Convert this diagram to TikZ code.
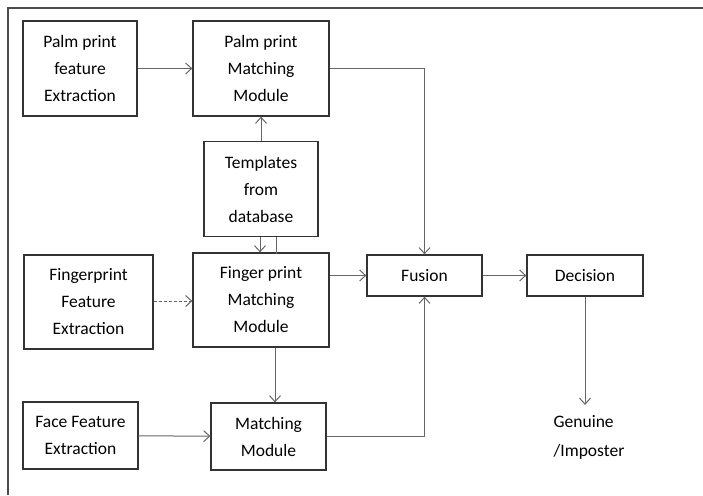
\documentclass[tikz,border=0pt]{standalone}
\usepackage{fontspec}
\setmainfont{Carlito}
\usetikzlibrary{arrows.meta}

\tikzset{
	blk/.style={draw=black!80,line width=1.3pt,align=center,inner sep=0pt,
		font=\fontsize{17.5}{27}\selectfont},
	lnk/.style={draw=black!60,line width=1pt},
}

\begin{document}
\begin{tikzpicture}[x=1pt,y=-1pt,>={Straight Barb[length=6pt,width=11pt]}]
\useasboundingbox (0,0) rectangle (703,495);
\draw[color=black!70,line width=2pt] (8,495) -- (8,8) -- (703,8);
%
\node[blk,minimum width=114pt,minimum height=95pt] (palmfeat) at (80,68.5) {Palm print\\feature\\Extraction};
\node[blk,minimum width=136pt,minimum height=95pt] (palmmatch) at (261,68.5) {Palm print\\Matching\\Module};
\node[blk,minimum width=114pt,minimum height=95pt] (templ) at (261,189) {Templates\\from\\database};
%
\node[blk,minimum width=129pt,minimum height=94pt] (fingfeat) at (88.5,302) {Fingerprint\\Feature\\Extraction};
\node[blk,minimum width=136pt,minimum height=94pt] (fingmatch) at (261,300) {Finger print\\Matching\\Module};
%
\node[blk,minimum width=115pt,minimum height=67pt] (facefeat) at (80.5,435.5) {Face Feature\\Extraction};
\node[blk,minimum width=115pt,minimum height=67pt] (matchmod) at (268.5,436.5) {Matching\\Module};
%
\node[blk,minimum width=115pt,minimum height=41pt] (fusion) at (424.5,275.5) {Fusion};
\node[blk,minimum width=116pt,minimum height=41pt] (decision) at (585,275.5) {Decision};
\node[align=left,inner sep=0pt,font=\fontsize{17.5}{29}\selectfont] (result) at (589,437) {Genuine\\/Imposter};

% palm print branch
\draw[lnk,->] (palmfeat) -- (palmmatch);
\draw[lnk,->] (palmmatch.east) -| (fusion.north);
\draw[lnk,->] (templ) -- (palmmatch);
\draw[lnk,->] ([xshift=-1pt]templ.south) -- ([xshift=-1pt]fingmatch.north);
\draw[lnk] ([xshift=15pt]templ.south) -- ([xshift=15pt,yshift=-2pt]fingmatch.north);
% finger print branch
\draw[lnk,densely dashed,->] (fingfeat.east |- 0,301) -- (fingmatch.west |- 0,301);
\draw[lnk,->] (fingmatch.east |- fusion.west) -- (fusion.west);
\draw[lnk,->] ([xshift=14pt]fingmatch.south) -- ([xshift=14pt]fingmatch.south |- matchmod.north);
% face branch
\draw[lnk,->] (facefeat) -- (matchmod);
\draw[lnk,->] (matchmod.east) -| (fusion.south);
%
\draw[lnk,->] (fusion) -- (decision);
\draw[lnk,->] (decision.south) -- ([yshift=10pt]decision.south |- result.north);
\end{tikzpicture}
\end{document}
